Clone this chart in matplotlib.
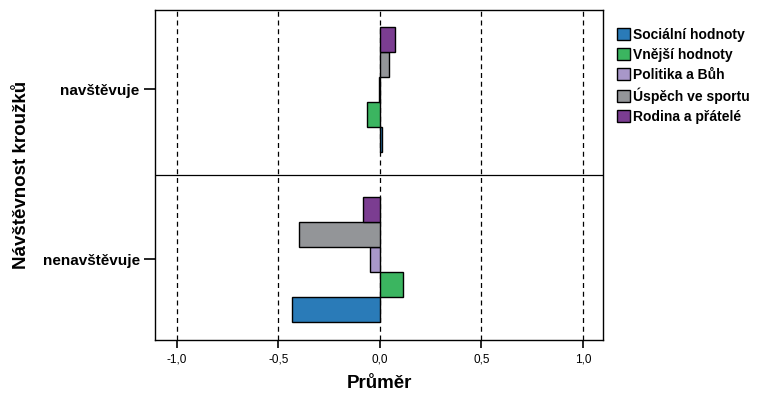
import matplotlib.pyplot as plt
import numpy as np

plt.rcParams['font.family'] = ['Liberation Sans', 'DejaVu Sans']

# groups, bottom to top
groups = ['nenavštěvuje', 'navštěvuje']
series = ['Sociální hodnoty', 'Vnější hodnoty', 'Politika a Bůh',
          'Úspěch ve sportu', 'Rodina a přátelé']
colors = ['#2a7bb8', '#3bb560', '#a897c9', '#939598', '#7b3d91']

# mean values per series: [nenavštěvuje, navštěvuje]
social = [-0.435, 0.013]
external = [0.115, -0.062]
politics = [-0.048, -0.006]
sport = [-0.399, 0.043]
family = [-0.084, 0.077]
values = [social, external, politics, sport, family]

xticks = [-1.0, -0.5, 0.0, 0.5, 1.0]
xticklabels = ['-1,0', '-0,5', '0,0', '0,5', '1,0']

fig = plt.figure(figsize=(7.71, 3.97), dpi=100)
ax = fig.add_axes([0.201, 0.1436, 0.581, 0.8314])

h = 0.147
y = np.arange(len(groups))
for i, (name, vals, c) in enumerate(zip(series, values, colors)):
    offs = (i - 2) * h
    ax.barh(y + offs, vals, height=h, color=c, edgecolor='black',
            linewidth=1.0, label=name, zorder=3)

for xv in xticks:
    ax.axvline(xv, color='black', linestyle=(0, (4, 3)), linewidth=0.9, zorder=1)
ax.axhline(0.497, color='black', linewidth=0.9, zorder=2)

ax.set_xlim(-1.108, 1.099)
ax.set_ylim(-0.4735, 1.468)
ax.set_xticks(xticks)
ax.set_xticklabels(xticklabels, fontsize=8.5)
ax.set_yticks(y)
ax.set_yticklabels(groups, fontsize=11, fontweight='bold')
ax.tick_params(axis='x', direction='out', length=6, width=1.2)
ax.tick_params(axis='y', direction='out', length=8, width=1.2, pad=3)

ax.set_xlabel('Průměr', fontsize=13.5, fontweight='bold', labelpad=7)
ax.set_ylabel('Návštěvnost kroužků', fontsize=13.5, fontweight='bold', labelpad=9)

for s in ax.spines.values():
    s.set_linewidth(1.0)

handles, labels = ax.get_legend_handles_labels()
leg = ax.legend(handles, labels, loc='upper left', bbox_to_anchor=(1.01, 0.975),
                frameon=False, prop={'weight': 'bold', 'size': 10},
                handlelength=0.95, handleheight=0.95, handletextpad=0.2,
                labelspacing=0.42, borderaxespad=0.3)

fig.savefig('out.png', dpi=100)
